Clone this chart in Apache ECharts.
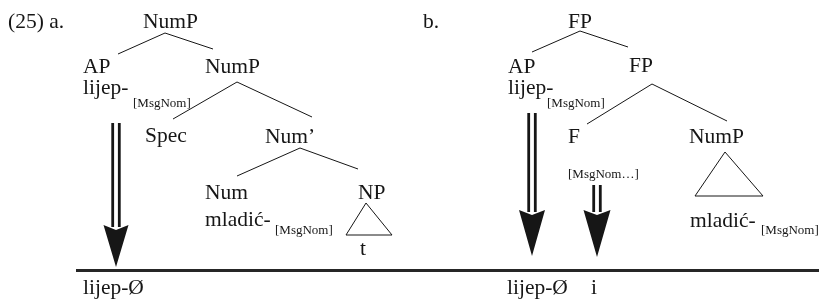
<!DOCTYPE html>
<html>
<head>
<meta charset="utf-8">
<script src="https://cdn.jsdelivr.net/npm/echarts@6/dist/echarts.min.js"></script>
<style>
  html, body { margin: 0; padding: 0; background: #fff; }
  #chart { width: 819px; height: 302px; }
</style>
</head>
<body>
<div id="chart"></div>
<script>
// node words: [left x, middle y, text]
const words = [
  [8, 22, '(25) a.'], [143, 22, 'NumP'],
  [83, 67, 'AP'], [205, 67, 'NumP'],
  [83, 88, 'lijep-'],
  [145, 136, 'Spec'], [265, 137, 'Num\u2019'],
  [205, 193, 'Num'], [358, 193, 'NP'],
  [205, 220, 'mladi\u0107-'],
  [360, 249, 't'],
  [83, 288, 'lijep-\u00d8'],
  [423, 22, 'b.'], [568, 22, 'FP'],
  [508, 67, 'AP'], [629, 66, 'FP'],
  [508, 88, 'lijep-'],
  [568, 137, 'F'], [689, 137, 'NumP'],
  [690, 221, 'mladi\u0107-'],
  [507, 288, 'lijep-\u00d8'], [591, 288, 'i']
];
// small feature labels: [left x, middle y, text]
const subs = [
  [133, 104, '[MsgNom]'], [275, 231, '[MsgNom]'],
  [547, 104, '[MsgNom]'], [568, 175, '[MsgNom\u2026]'],
  [761, 231, '[MsgNom]']
];
// tree branches
const branches = [
  [[165, 33], [118, 54]], [[165, 33], [213, 49]],
  [[237, 82], [173, 119]], [[237, 82], [312, 117]],
  [[300, 148], [237, 176]], [[300, 148], [358, 169]],
  [[580, 31], [532, 52]], [[580, 31], [628, 47]],
  [[652, 84], [587, 124]], [[652, 84], [727, 121]]
];
// triangles (closed)
const triangles = [
  [[366, 203], [346, 235], [392, 235], [366, 203]],
  [[725, 152], [695, 196], [763, 196], [725, 152]]
];
// arrows: [x, shaft top, head top, tip, head half width]
const arrows = [
  [116, 123, 225, 267, 12.5],
  [532, 113, 210, 256, 13],
  [597, 185, 210, 257, 13.5]
];
const baseLine = [[76, 270], [819, 270]];

const serif = '"Liberation Serif", "DejaVu Serif", serif';
const ink = '#161616';

function textSeries(list, size) {
  return {
    type: 'custom',
    silent: true,
    data: list,
    renderItem: function (params, api) {
      const p = api.coord([api.value(0), api.value(1)]);
      return {
        type: 'text',
        x: p[0], y: p[1],
        style: {
          text: list[params.dataIndex][2],
          fill: ink,
          font: size + 'px ' + serif,
          align: 'left',
          verticalAlign: 'middle'
        }
      };
    }
  };
}

const chart = echarts.init(document.getElementById('chart'));
chart.setOption({
  animation: false,
  backgroundColor: '#fff',
  grid: { left: 0, right: 0, top: 0, bottom: 0 },
  xAxis: { type: 'value', min: 0, max: 819, show: false },
  yAxis: { type: 'value', min: 0, max: 302, inverse: true, show: false },
  series: [
    {
      type: 'lines',
      coordinateSystem: 'cartesian2d',
      silent: true,
      lineStyle: { color: ink, width: 1, opacity: 1 },
      data: branches.map(function (b) { return { coords: b }; })
    },
    {
      type: 'lines',
      coordinateSystem: 'cartesian2d',
      polyline: true,
      silent: true,
      lineStyle: { color: ink, width: 1, opacity: 1 },
      data: triangles.map(function (t) { return { coords: t }; })
    },
    {
      type: 'lines',
      coordinateSystem: 'cartesian2d',
      silent: true,
      lineStyle: { color: '#262626', width: 3, opacity: 1 },
      data: [{ coords: baseLine }]
    },
    {
      type: 'custom',
      silent: true,
      data: arrows,
      renderItem: function (params, api) {
        const x = api.value(0);
        const top = api.coord([x, api.value(1)]);
        const head = api.coord([x, api.value(2)]);
        const tip = api.coord([x, api.value(3)]);
        const hw = api.size([api.value(4), 0])[0];
        const gap = 3.3;
        return {
          type: 'group',
          children: [
            { type: 'line', shape: { x1: top[0] - gap, y1: top[1], x2: head[0] - gap, y2: head[1] + 2 },
              style: { stroke: ink, lineWidth: 2.8 } },
            { type: 'line', shape: { x1: top[0] + gap, y1: top[1], x2: head[0] + gap, y2: head[1] + 2 },
              style: { stroke: ink, lineWidth: 2.8 } },
            { type: 'polygon', shape: { points: [[head[0] - hw, head[1]], [head[0], head[1] + 5], [head[0] + hw, head[1]], [tip[0], tip[1]]] },
              style: { fill: ink } }
          ]
        };
      }
    },
    textSeries(words, 21.5),
    textSeries(subs, 13)
  ]
});
</script>
</body>
</html>
